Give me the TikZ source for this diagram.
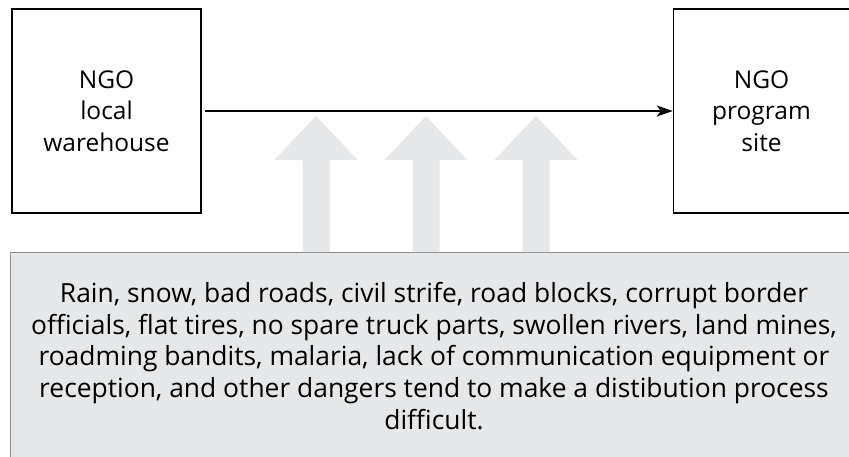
\documentclass[tikz,border=0pt]{standalone}
\usepackage{fontspec}
\setmainfont{Open Sans}
\usetikzlibrary{positioning,arrows.meta}
\definecolor{boxgray}{HTML}{E6E7E8}
\definecolor{rimgray}{HTML}{8C8C8C}

\begin{document}
\begin{tikzpicture}[x=1pt, y=-1pt,
      main/.style = {draw, line width=1.5pt, minimum height=204pt,
        inner sep=0pt, align=center, font=\fontsize{24.5}{31.5}\selectfont},
      note/.style = {draw=rimgray, fill=boxgray, line width=1pt,
        align=center, font=\fontsize{26.4}{31.7}\selectfont},
      fat/.style = {fill=boxgray}, node distance = 471pt]
      \useasboundingbox (0,0) rectangle (849,456);

      \node[main, minimum width=189pt] (wh) at (106.5,111) {NGO\\local\\warehouse};
      \node[main, minimum width=176pt] (site) [right=of wh] {NGO\\program\\site};
      \node[note, minimum width=848pt, minimum height=207pt] (risks) at (434,356)
        {Rain, snow, bad roads, civil strife, road blocks, corrupt border\\
         officials, flat tires, no spare truck parts, swollen rivers, land mines,\\
         roadming bandits, malaria, lack of communication equipment or\\
         reception, and other dangers tend to make a distibution process\\
         difficult.};

      \draw[line width=1.3pt, shorten <=3pt,
        -{Stealth[length=16pt, width=11pt, inset=4pt]}] (wh) -- (site);

      % three pressure arrows from the hazards up to the route
      \foreach \x in {316,426,536}
        \fill[fat] (\x-13.5,0 |- risks.north) -- (\x-13.5,160) -- (\x-41.5,160)
          -- (\x,116) -- (\x+41.5,160) -- (\x+13.5,160)
          -- (\x+13.5,0 |- risks.north) -- cycle;
    \end{tikzpicture}
\end{document}
